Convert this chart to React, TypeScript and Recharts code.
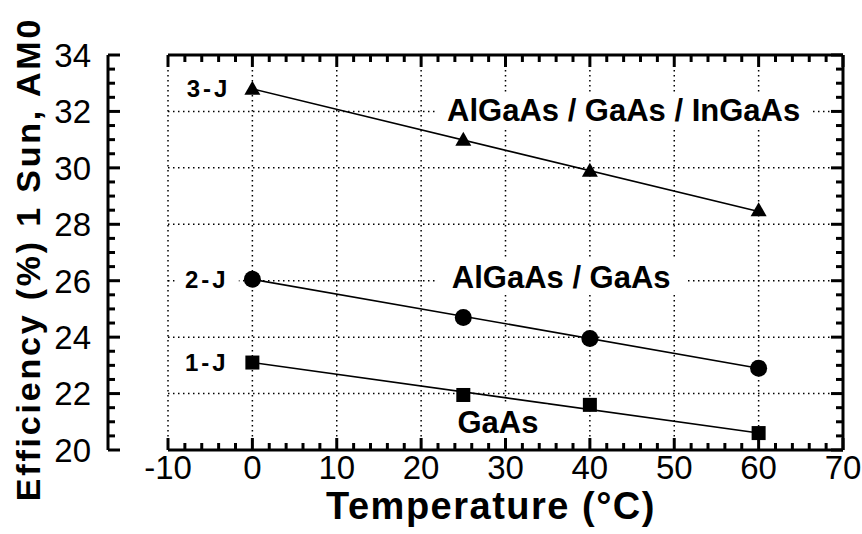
import React from "react";
import {
  ComposedChart,
  Line,
  Scatter,
  XAxis,
  YAxis,
  CartesianGrid,
  ReferenceDot,
} from "recharts";

// measured cells, temperature in °C
const temps = [0, 25, 40, 60];
const eff3J = [32.8, 31.0, 29.9, 28.5];
const eff2J = [26.05, 24.7, 23.95, 22.9];
const eff1J = [23.1, 21.95, 21.6, 20.6];

// straight fit lines drawn through each set
const fitX = [0, 60];
const fit3J = [32.8, 28.45];
const fit2J = [26.05, 22.9];
const fit1J = [23.1, 20.6];

const xMajor = [-10, 0, 10, 20, 30, 40, 50, 60, 70];
const yMajor = [20, 22, 24, 26, 28, 30, 32, 34];
const xTicks = Array.from({ length: 41 }, (_, i) => -10 + i * 2);
const yTicks = Array.from({ length: 29 }, (_, i) => 20 + i * 0.5);

const FONT = '"Liberation Sans", Arial, Helvetica, sans-serif';

const pts = (ys: number[]) => temps.map((t, i) => ({ x: t, y: ys[i] }));
const fit = (ys: number[]) => fitX.map((t, i) => ({ x: t, y: ys[i] }));

const isMajorX = (v: number) => xMajor.includes(v);
const isMajorY = (v: number) => yMajor.includes(v);

const BottomTick = (props: any) => {
  const { x, y, payload } = props;
  const major = isMajorX(payload.value);
  return (
    <g>
      <line x1={x} y1={y} x2={x} y2={y - (major ? 12 : 7)} stroke="#000" strokeWidth={3} />
      {major && (
        <text x={x} y={y + 29} textAnchor="middle" fontSize={33} fontFamily={FONT} fill="#000">
          {payload.value}
        </text>
      )}
    </g>
  );
};

const TopTick = (props: any) => {
  const { x, y, payload } = props;
  const major = isMajorX(payload.value);
  return <line x1={x} y1={y} x2={x} y2={y + (major ? 12 : 7)} stroke="#000" strokeWidth={3} />;
};

const LeftTick = (props: any) => {
  const { x, y, payload } = props;
  const major = isMajorY(payload.value);
  return (
    <g>
      <line x1={x} y1={y} x2={x + (major ? 12 : 7)} y2={y} stroke="#000" strokeWidth={3} />
      {major && (
        <text x={x - 17} y={y} dy="0.36em" textAnchor="end" fontSize={33} fontFamily={FONT} fill="#000">
          {payload.value}
        </text>
      )}
    </g>
  );
};

const RightTick = (props: any) => {
  const { x, y, payload } = props;
  const major = isMajorY(payload.value);
  return <line x1={x} y1={y} x2={x - (major ? 12 : 7)} y2={y} stroke="#000" strokeWidth={3} />;
};

const YTitle = () => (
  <text
    x={40}
    y={259}
    transform="rotate(-90 40 259)"
    textAnchor="middle"
    fontSize={34}
    fontWeight="bold"
    letterSpacing={2.8}
    fontFamily={FONT}
    fill="#000"
  >
    Efficiency (%) 1 Sun, AM0
  </text>
);

const XTitle = () => (
  <text
    x={491}
    y={519}
    textAnchor="middle"
    fontSize={38}
    fontWeight="bold"
    letterSpacing={1.5}
    fontFamily={FONT}
    fill="#000"
  >
    Temperature (°C)
  </text>
);

// text label with a white box behind it, so the grid is cut out
const boxLabel = (text: string, size: number, w: number, spacing = 0) => (props: any) => {
  const { cx, cy } = props;
  return (
    <g>
      <rect x={cx - w / 2} y={cy - size * 0.55} width={w} height={size * 1.1} fill="#fff" />
      <text
        x={cx}
        y={cy}
        dy="0.36em"
        textAnchor="middle"
        fontSize={size}
        fontWeight="bold"
        letterSpacing={spacing}
        fontFamily={FONT}
        fill="#000"
      >
        {text}
      </text>
    </g>
  );
};

const Triangle = (props: any) => {
  const { cx, cy } = props;
  return <path d={`M${cx},${cy - 8} L${cx + 8},${cy + 6} L${cx - 8},${cy + 6} Z`} fill="#000" />;
};
const Circle = (props: any) => <circle cx={props.cx} cy={props.cy} r={8.5} fill="#000" />;
const Square = (props: any) => (
  <rect x={props.cx - 7} y={props.cy - 7} width={14} height={14} fill="#000" />
);

const frame = { stroke: "#000", strokeWidth: 3 };

export default function App() {
  return (
    <div style={{ width: 862, height: 534, background: "#fff" }}>
      <style>{`body{margin:0}`}</style>
      <ComposedChart width={862} height={534} margin={{ top: 54, right: 18, left: 0, bottom: 0 }}>
        <XAxis
          xAxisId="b"
          type="number"
          dataKey="x"
          domain={[-10, 70]}
          ticks={xTicks}
          interval={0}
          tick={<BottomTick />}
          tickLine={false}
          tickSize={0}
          tickMargin={0}
          height={84}
          axisLine={frame}
          allowDataOverflow
          label={<XTitle />}
        />
        <XAxis
          xAxisId="t"
          orientation="top"
          type="number"
          dataKey="x"
          domain={[-10, 70]}
          ticks={xTicks}
          interval={0}
          tick={<TopTick />}
          tickLine={false}
          tickSize={0}
          tickMargin={0}
          height={1}
          axisLine={frame}
          allowDataOverflow
        />
        <XAxis xAxisId="g" type="number" dataKey="x" domain={[-10, 70]} ticks={xMajor} hide allowDataOverflow />
        <YAxis
          yAxisId="l"
          type="number"
          domain={[20, 34]}
          ticks={yTicks}
          interval={0}
          tick={<LeftTick />}
          tickLine={false}
          tickSize={0}
          tickMargin={0}
          width={168}
          axisLine={frame}
          allowDataOverflow
          label={<YTitle />}
        />
        <YAxis
          yAxisId="r"
          orientation="right"
          type="number"
          domain={[20, 34]}
          ticks={yTicks}
          interval={0}
          tick={<RightTick />}
          tickLine={false}
          tickSize={0}
          tickMargin={0}
          width={1}
          axisLine={frame}
          allowDataOverflow
        />
        <YAxis yAxisId="g" type="number" domain={[20, 34]} ticks={yMajor} hide allowDataOverflow />

        <CartesianGrid
          xAxisId="g"
          yAxisId="g"
          stroke="#000"
          strokeWidth={1.5}
          strokeDasharray="1.5 3.5"
        />

        <ReferenceDot x={-5.2} y={32.8} xAxisId="b" yAxisId="l" shape={boxLabel("3-J", 24, 54, 3)} />
        <ReferenceDot x={-5.4} y={26.05} xAxisId="b" yAxisId="l" shape={boxLabel("2-J", 24, 64, 3)} />
        <ReferenceDot x={-5.4} y={23.1} xAxisId="b" yAxisId="l" shape={boxLabel("1-J", 24, 54, 3)} />
        <ReferenceDot x={44} y={32.05} xAxisId="b" yAxisId="l" shape={boxLabel("AlGaAs / GaAs / InGaAs", 31, 375)} />
        <ReferenceDot x={36.6} y={26.15} xAxisId="b" yAxisId="l" shape={boxLabel("AlGaAs / GaAs", 31, 248)} />
        <ReferenceDot x={29.1} y={21.0} xAxisId="b" yAxisId="l" shape={boxLabel("GaAs", 31, 100)} />

        <Line data={fit(fit3J)} dataKey="y" xAxisId="b" yAxisId="l" stroke="#000" strokeWidth={1.6} dot={false} isAnimationActive={false} />
        <Line data={fit(fit2J)} dataKey="y" xAxisId="b" yAxisId="l" stroke="#000" strokeWidth={1.6} dot={false} isAnimationActive={false} />
        <Line data={fit(fit1J)} dataKey="y" xAxisId="b" yAxisId="l" stroke="#000" strokeWidth={1.6} dot={false} isAnimationActive={false} />

        <Scatter data={pts(eff3J)} dataKey="y" xAxisId="b" yAxisId="l" shape={Triangle} isAnimationActive={false} />
        <Scatter data={pts(eff2J)} dataKey="y" xAxisId="b" yAxisId="l" shape={Circle} isAnimationActive={false} />
        <Scatter data={pts(eff1J)} dataKey="y" xAxisId="b" yAxisId="l" shape={Square} isAnimationActive={false} />
      </ComposedChart>
    </div>
  );
}
